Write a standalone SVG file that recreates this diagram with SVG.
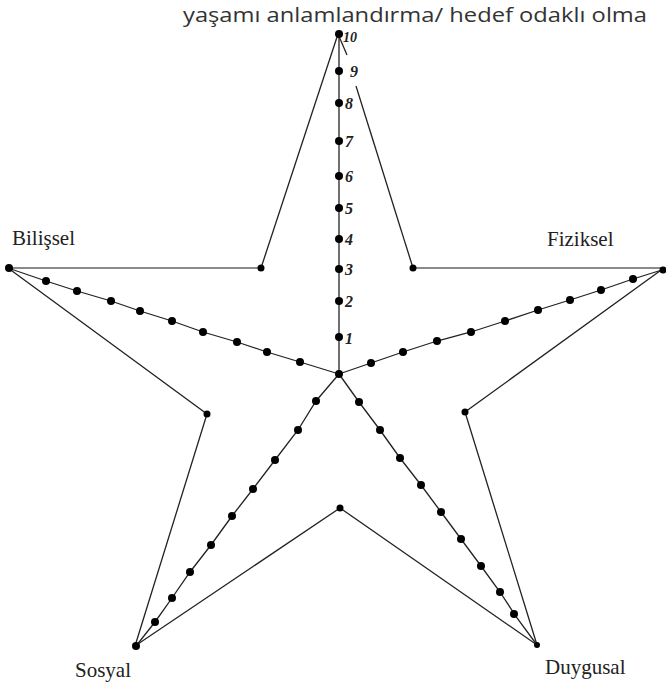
<svg xmlns="http://www.w3.org/2000/svg" width="666" height="686" viewBox="0 0 666 686">
<style>
.ln{stroke:#222;stroke-width:1.3;fill:none}
.hz{stroke:#8a8a8a;stroke-width:2.2;fill:none}
.dot{fill:#000}
.num{font-family:"Liberation Serif",serif;font-style:italic;font-weight:bold;font-size:16px;fill:#222}
.lab{font-family:"Liberation Serif",serif;font-size:21px;fill:#222}
.title{font-family:"Open Sans","Noto Sans",sans-serif;font-size:19.5px;fill:#333}
</style>
<rect width="666" height="686" fill="#fff"/>
<text class="title" x="183" y="22" textLength="464" lengthAdjust="spacingAndGlyphs">yaşamı anlamlandırma/ hedef odaklı olma</text>
<g id="connectors">
<line class="ln" x1="338" y1="34" x2="261" y2="268"/>
<line class="hz" x1="8" y1="268" x2="261" y2="268"/>
<polyline class="ln" points="8,268 207,414 135,646 340,508 537,645 465,412 664,268"/>
<line class="hz" x1="413" y1="268" x2="664" y2="268"/>
<line class="ln" x1="338" y1="34" x2="347" y2="55"/>
<line class="ln" x1="356" y1="86" x2="413" y2="268"/>
<line class="ln" x1="339" y1="374" x2="339" y2="34"/>
<polyline class="ln" points="339,374 300,362 267,352 237,342 203,332 172,321 140,311 111,301 77,291 46,281 8,268"/>
<polyline class="ln" points="339,374 371,363 403,352 437,341 471,332 505,321 538,310 570,300 601,290 633,279 665,269"/>
<polyline class="ln" points="339,374 316,401 298,430 275,460 253,489 232,516 211,545 190,572 172,598 155,622 136,646"/>
<polyline class="ln" points="339,374 359,402 380,430 400,458 421,485 441,512 461,539 481,566 500,592 517,618 537,645"/>
</g>
<g id="axis-top">
<circle class="dot" cx="339" cy="34" r="4"/>
<circle class="dot" cx="339" cy="71" r="4"/>
<circle class="dot" cx="339" cy="103" r="4"/>
<circle class="dot" cx="339" cy="141" r="4"/>
<circle class="dot" cx="339" cy="176" r="4"/>
<circle class="dot" cx="339" cy="208" r="4"/>
<circle class="dot" cx="339" cy="239" r="4"/>
<circle class="dot" cx="339" cy="269" r="4"/>
<circle class="dot" cx="339" cy="301" r="4"/>
<circle class="dot" cx="339" cy="337" r="4"/>
<circle class="dot" cx="339" cy="374" r="4"/>
<text class="num" x="343" y="42" style="font-size:14px">10</text>
<text class="num" x="350" y="77">9</text>
<text class="num" x="345" y="109">8</text>
<text class="num" x="345" y="147">7</text>
<text class="num" x="345" y="182">6</text>
<text class="num" x="345" y="214">5</text>
<text class="num" x="345" y="245">4</text>
<text class="num" x="345" y="275">3</text>
<text class="num" x="345" y="307">2</text>
<text class="num" x="345" y="344">1</text>
</g>
<g id="axis-bilissel">
<circle class="dot" cx="9" cy="268" r="4"/>
<circle class="dot" cx="46" cy="281" r="4"/>
<circle class="dot" cx="77" cy="291" r="4"/>
<circle class="dot" cx="111" cy="301" r="4"/>
<circle class="dot" cx="140" cy="311" r="4"/>
<circle class="dot" cx="172" cy="321" r="4"/>
<circle class="dot" cx="203" cy="332" r="4"/>
<circle class="dot" cx="237" cy="342" r="4"/>
<circle class="dot" cx="267" cy="352" r="4"/>
<circle class="dot" cx="300" cy="362" r="4"/>
<text class="lab" x="12" y="245">Bilişsel</text>
</g>
<g id="axis-fiziksel">
<circle class="dot" cx="371" cy="363" r="4"/>
<circle class="dot" cx="403" cy="352" r="4"/>
<circle class="dot" cx="437" cy="341" r="4"/>
<circle class="dot" cx="471" cy="332" r="4"/>
<circle class="dot" cx="505" cy="321" r="4"/>
<circle class="dot" cx="538" cy="310" r="4"/>
<circle class="dot" cx="570" cy="300" r="4"/>
<circle class="dot" cx="601" cy="290" r="4"/>
<circle class="dot" cx="633" cy="279" r="4"/>
<circle class="dot" cx="663" cy="270" r="3.5"/>
<text class="lab" x="547" y="246">Fiziksel</text>
</g>
<g id="axis-sosyal">
<circle class="dot" cx="316" cy="401" r="4"/>
<circle class="dot" cx="298" cy="430" r="4"/>
<circle class="dot" cx="275" cy="460" r="4"/>
<circle class="dot" cx="253" cy="489" r="4"/>
<circle class="dot" cx="232" cy="516" r="4"/>
<circle class="dot" cx="211" cy="545" r="4"/>
<circle class="dot" cx="190" cy="572" r="4"/>
<circle class="dot" cx="172" cy="598" r="4"/>
<circle class="dot" cx="155" cy="622" r="4"/>
<circle class="dot" cx="136" cy="646" r="4"/>
<text class="lab" x="75" y="677">Sosyal</text>
</g>
<g id="axis-duygusal">
<circle class="dot" cx="359" cy="402" r="4"/>
<circle class="dot" cx="380" cy="430" r="4"/>
<circle class="dot" cx="400" cy="458" r="4"/>
<circle class="dot" cx="421" cy="485" r="4"/>
<circle class="dot" cx="441" cy="512" r="4"/>
<circle class="dot" cx="461" cy="539" r="4"/>
<circle class="dot" cx="481" cy="566" r="4"/>
<circle class="dot" cx="500" cy="592" r="4"/>
<circle class="dot" cx="514" cy="614" r="4"/>
<circle class="dot" cx="537" cy="645" r="3"/>
<text class="lab" x="545" y="674">Duygusal</text>
</g>
<g id="star-vertices">
<circle class="dot" cx="261" cy="268" r="3.5"/>
<circle class="dot" cx="413" cy="268" r="3.5"/>
<circle class="dot" cx="207" cy="414" r="3.5"/>
<circle class="dot" cx="465" cy="412" r="3.5"/>
<circle class="dot" cx="340" cy="508" r="3.5"/>
</g>
</svg>
